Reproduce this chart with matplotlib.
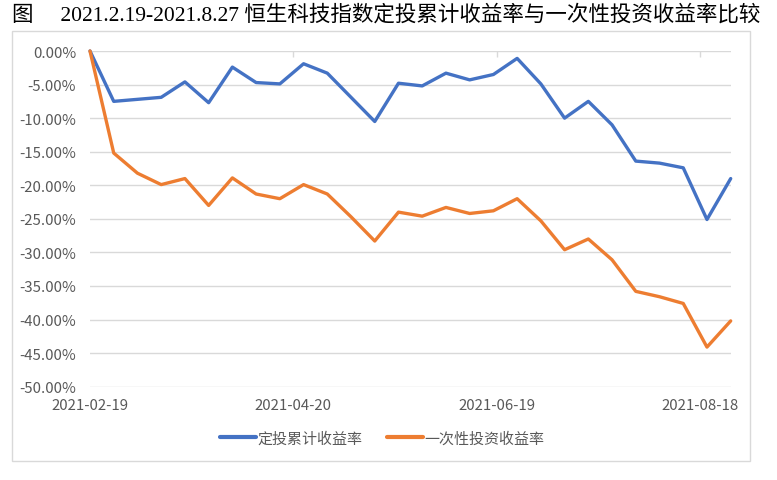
import matplotlib
matplotlib.use("Agg")

import numpy as np
import pandas as pd
import matplotlib.pyplot as plt
import matplotlib.dates as mdates
from matplotlib.patches import Rectangle

# weekly dates, 2021-02-19 .. 2021-08-27
dates = pd.date_range("2021-02-19", periods=28, freq="7D")

# 定投累计收益率 (%)
dca_return = [0.0, -7.5, -7.2, -6.9, -4.6, -7.7, -2.4, -4.7, -4.9, -1.9,
              -3.3, -6.9, -10.5, -4.8, -5.2, -3.3, -4.3, -3.5, -1.1, -4.9,
              -10.0, -7.5, -11.0, -16.4, -16.7, -17.4, -25.1, -19.0]

# 一次性投资收益率 (%)
lump_return = [0.0, -15.2, -18.2, -19.9, -19.0, -23.0, -18.9, -21.3, -22.0, -19.9,
               -21.3, -24.7, -28.3, -24.0, -24.6, -23.3, -24.2, -23.8, -22.0, -25.3,
               -29.6, -28.0, -31.1, -35.8, -36.6, -37.6, -44.1, -40.2]

tick_dates = ["2021-02-19", "2021-04-20", "2021-06-19", "2021-08-18"]
y_ticks = np.arange(0, -55, -5)

title = "图\u3000 2021.2.19-2021.8.27 恒生科技指数定投累计收益率与一次性投资收益率比较"
series_names = ["定投累计收益率", "一次性投资收益率"]

BLUE = "#4472C4"
ORANGE = "#ED7D31"
GRID = "#D9D9D9"
TEXT = "#595959"
CJK = ["Noto Sans CJK SC", "DejaVu Sans"]

plt.rcParams["font.family"] = CJK

fig = plt.figure(figsize=(7.77, 4.81), dpi=100)
W, H = 777, 481

# outer chart border
fig.patches.append(Rectangle((12 / W, 1 - 461.7 / H), (749.5 - 12) / W, (461.7 - 32) / H,
                             transform=fig.transFigure, fill=False,
                             edgecolor=GRID, linewidth=1.0))

ax = fig.add_axes([90 / W, 1 - 387.7 / H, (730.7 - 90) / W, (387.7 - 52) / H])

ax.plot(dates, dca_return, color=BLUE, linewidth=2.4, label=series_names[0],
        solid_joinstyle="round", solid_capstyle="round", clip_on=False)
ax.plot(dates, lump_return, color=ORANGE, linewidth=2.4, label=series_names[1],
        solid_joinstyle="round", solid_capstyle="round", clip_on=False)

ax.set_ylim(-50, 0)
ax.set_xlim(dates[0], dates[-1])
ax.set_yticks(y_ticks)
ax.set_yticklabels([f"{v:.2f}%" if v != 0 else "0.00%" for v in y_ticks])
ax.yaxis.grid(True, color=GRID, linewidth=1.0)
ax.set_axisbelow(True)

ax.set_xticks(pd.to_datetime(tick_dates))
ax.xaxis.set_major_formatter(mdates.DateFormatter("%Y-%m-%d"))

for s in ax.spines.values():
    s.set_visible(False)

ax.tick_params(axis="y", length=0, pad=10, labelsize=10.8, labelcolor=TEXT)
# ticks sit on the 0% line at the top, labels below the plot
ax.xaxis.set_ticks_position("top")
ax.tick_params(axis="x", top=True, bottom=False, labeltop=False, labelbottom=True,
               direction="in", length=4, width=1, color=GRID,
               pad=8, labelsize=10.8, labelcolor=TEXT)

leg = fig.legend(loc="center", bbox_to_anchor=(382 / W, 1 - 439 / H),
                 ncol=2, frameon=False, fontsize=10.8, handlelength=2.4,
                 handletextpad=0.1, columnspacing=1.6, labelcolor=TEXT)
for line in leg.get_lines():
    line.set_linewidth(3.0)

fig.text(12 / W, 1 - 15 / H, title, ha="left", va="center", fontsize=15.5,
         family=["Liberation Serif", "Noto Sans CJK SC"], color="black")

fig.savefig("out.png", dpi=100, facecolor="white")
